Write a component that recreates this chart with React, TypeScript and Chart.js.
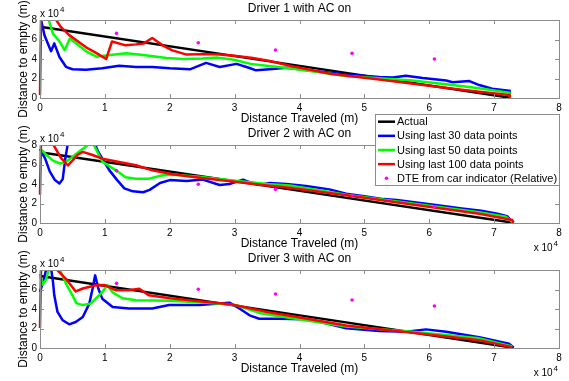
import React, { useEffect, useRef } from "react";
import { Chart, registerables } from "chart.js";

Chart.register(...registerables);

const W = 569;
const H = 381;
const FONT = '"Liberation Sans", Arial, Helvetica, sans-serif';
const FRAME_COLOR = "#8c8c8c";

// ---- text / ticks ----
const xTicks = [0, 1, 2, 3, 4, 5, 6, 7, 8];
const yTicks = [0, 2, 4, 6, 8];
const titles = ["Driver 1 with AC on", "Driver 2 with AC on", "Driver 3 with AC on"];
const xLabel = "Distance Traveled (m)";
const yLabel = "Distance to empty (m)";
const legendLabels = [
  "Actual",
  "Using last 30 data points",
  "Using last 50 data points",
  "Using last 100 data points",
  "DTE from car indicator (Relative)",
];
const seriesColors = ["#000000", "#0000ff", "#00ff00", "#ff0000", "#ff00ff"];

// ---- data (x and y in units of 10^4 m, as shown on the axes) ----
type P = [number, number][];

const driver1Actual: P = [[0, 7.3], [3.85, 3.45], [7.25, 0.02]];
const driver2Actual: P = [[0, 7.25], [3.85, 3.45], [7.3, 0.02]];
const driver3Actual: P = [[0, 7.38], [3.85, 3.5], [7.3, 0.02]];

const driver1Blue: P = [
  [0, 8.5], [0.07, 6.4], [0.17, 4.8], [0.22, 5.6], [0.3, 4.2], [0.4, 3.2], [0.5, 2.95],
  [0.71, 2.9], [0.96, 3.05], [1.22, 3.3], [1.48, 3.18], [1.73, 3.18], [2.0, 3.04],
  [2.31, 2.94], [2.56, 3.6], [2.77, 3.18], [3.03, 3.5], [3.23, 3.08], [3.33, 2.84],
  [3.54, 2.94], [3.8, 3.1], [4.2, 2.8], [4.72, 2.4], [5.23, 2.15], [5.44, 2.1],
  [5.64, 2.29], [5.9, 2.05], [6.26, 1.8], [6.36, 1.62], [6.62, 1.74], [6.77, 1.33],
  [6.97, 0.95], [7.23, 0.75], [7.24, 0.35],
];
const driver1Green: P = [
  [0.05, 10], [0.12, 8.3], [0.2, 6.6], [0.3, 5.8], [0.38, 4.9], [0.46, 6.1], [0.56, 5.6],
  [0.72, 4.75], [0.87, 4.24], [1.08, 4.4], [1.33, 4.6], [1.59, 4.4], [1.95, 4.1],
  [2.2, 4.0], [2.5, 4.05], [2.72, 4.15], [2.97, 3.95], [3.25, 3.5], [3.49, 3.3],
  [3.85, 3.05], [4.72, 2.25], [5.74, 1.8], [6.26, 1.4], [6.77, 1.0], [7.23, 0.55],
  [7.24, 0.2],
];
const driver1Red: P = [
  [0, 0.3], [0.02, 10], [0.25, 8.0], [0.32, 7.3], [0.45, 6.45], [0.71, 5.2], [0.87, 4.6],
  [1.02, 4.0], [1.11, 5.8], [1.32, 5.4], [1.48, 5.5], [1.6, 5.6], [1.73, 6.15],
  [1.89, 5.4], [2.04, 4.89], [2.26, 4.45], [2.51, 4.5], [2.77, 4.45], [3.03, 4.3],
  [3.28, 4.1], [3.54, 3.8], [3.85, 3.3], [4.5, 2.45], [5.23, 1.9], [6.0, 1.25],
  [6.5, 0.85], [7.23, 0.3], [7.24, 0.05],
];

const driver2Blue: P = [
  [0, 7.6], [0.08, 6.6], [0.15, 5.3], [0.23, 4.4], [0.3, 4.05], [0.35, 4.5], [0.39, 6.6],
  [0.43, 8.2], [0.5, 11], [0.75, 11], [0.84, 8.2], [0.89, 7.4], [0.96, 6.6], [1.07, 5.4],
  [1.19, 4.4], [1.3, 3.55], [1.43, 3.25], [1.59, 3.15], [1.69, 3.4], [1.85, 4.1],
  [2.0, 4.4], [2.26, 4.3], [2.51, 4.45], [2.77, 3.9], [2.92, 4.0], [3.13, 4.45],
  [3.23, 4.2], [3.38, 3.9], [3.54, 4.1], [3.8, 4.0], [4.1, 3.8], [4.46, 3.45],
  [4.72, 3.0], [5.0, 2.75], [5.3, 2.45], [5.5, 2.35], [5.8, 2.1], [6.1, 1.85],
  [6.5, 1.5], [6.8, 1.25], [7.05, 0.95], [7.2, 0.7], [7.28, 0.1],
];
const driver2Green: P = [
  [0, 7.65], [0.1, 6.97], [0.2, 6.4], [0.31, 6.1], [0.41, 6.3], [0.6, 7.3], [0.72, 7.9],
  [0.78, 8.4], [0.83, 8.0], [0.96, 6.3], [1.17, 5.4], [1.32, 4.7], [1.48, 4.55],
  [1.68, 4.55], [1.89, 4.9], [2.09, 4.95], [2.46, 4.75], [2.97, 4.35], [3.5, 4.0],
  [3.85, 3.85], [4.72, 2.9], [5.74, 2.0], [6.77, 1.1], [7.18, 0.65], [7.28, 0.1],
];
const driver2Red: P = [
  [0, 2.9], [0.02, 10], [0.2, 8.1], [0.32, 6.7], [0.43, 5.9], [0.5, 6.4], [0.58, 7.0],
  [0.66, 7.3], [0.8, 7.0], [0.96, 6.6], [1.22, 6.25], [1.48, 5.92], [1.73, 5.4],
  [2.04, 5.0], [2.46, 4.65], [2.97, 4.25], [3.5, 3.85], [3.85, 3.62], [4.72, 2.85],
  [5.74, 1.9], [6.77, 0.95], [7.28, 0.3], [7.3, 0.05],
];

const driver3Blue: P = [
  [0, 5.75], [0.05, 6.8], [0.1, 8.2], [0.13, 8.8], [0.17, 8.2], [0.2, 6.8], [0.22, 5.4],
  [0.27, 3.7], [0.35, 2.84], [0.45, 2.43], [0.55, 2.67], [0.66, 3.18], [0.76, 4.55],
  [0.81, 6.08], [0.85, 7.45], [0.9, 6.08], [0.96, 5.06], [1.12, 4.2], [1.37, 4.05],
  [1.73, 4.05], [1.99, 4.4], [2.46, 4.4], [2.92, 4.65], [3.08, 4.03], [3.23, 3.35],
  [3.38, 3.0], [3.69, 3.0], [4.05, 2.94], [4.2, 2.87], [4.72, 2.02], [5.23, 1.74],
  [5.64, 1.67], [5.95, 1.91], [6.26, 1.67], [6.77, 1.1], [7.23, 0.44], [7.3, 0.05],
];
const driver3Green: P = [
  [0, 7.6], [0.04, 6.5], [0.09, 7.0], [0.14, 8.1], [0.22, 8.6], [0.3, 8.1], [0.41, 6.5],
  [0.5, 5.4], [0.56, 4.6], [0.66, 4.4], [0.78, 4.55], [0.96, 5.74], [1.04, 6.45],
  [1.12, 5.7], [1.27, 5.1], [1.48, 4.9], [1.99, 4.85], [2.46, 4.7], [2.77, 4.55],
  [3.03, 4.38], [3.38, 3.6], [3.69, 3.25], [4.72, 2.2], [5.74, 1.67], [6.77, 0.99],
  [7.28, 0.15],
];
const driver3Red: P = [
  [0, 2.05], [0.02, 10], [0.25, 8.1], [0.4, 7.1], [0.55, 5.8], [0.66, 6.1], [0.86, 6.43],
  [1.0, 6.45], [1.17, 5.92], [1.37, 5.92], [1.53, 6.08], [1.68, 5.4], [2.0, 5.1],
  [2.46, 4.8], [2.97, 4.45], [3.5, 3.7], [3.85, 3.3], [4.72, 2.3], [5.74, 1.57],
  [6.77, 0.8], [7.28, 0.07],
];

const dteX = [1.18, 2.44, 3.63, 4.81, 6.08];
const driver1Dte = [6.63, 5.67, 4.92, 4.58, 4.0];
const driver2Dte = [5.36, 3.97, 3.45, 2.87, 1.67];
const driver3Dte = [6.63, 6.02, 5.54, 4.92, 4.31];

const actualSeries = [driver1Actual, driver2Actual, driver3Actual];
const blueSeries = [driver1Blue, driver2Blue, driver3Blue];
const greenSeries = [driver1Green, driver2Green, driver3Green];
const redSeries = [driver1Red, driver2Red, driver3Red];
const dteSeries = [driver1Dte, driver2Dte, driver3Dte];

// ---- layout of the three panels (plot-area top / bottom in page px) ----
const panelTops = [20, 145, 270];
const panelBottoms = [98, 223, 348];
const Y_AXIS_W = 40;
const X_AXIS_H = 20;
const RIGHT_PAD = 10;
const TICK = 4;

function drawExponent(ctx: CanvasRenderingContext2D, x: number, baseline: number, alignRight: boolean) {
  ctx.font = `10px ${FONT}`;
  const w1 = ctx.measureText("x 10").width;
  ctx.font = `8px ${FONT}`;
  const w2 = ctx.measureText("4").width;
  const start = alignRight ? x - w2 - 1 - w1 : x;
  ctx.textAlign = "left";
  ctx.textBaseline = "alphabetic";
  ctx.font = `10px ${FONT}`;
  ctx.fillText("x 10", start, baseline);
  ctx.font = `8px ${FONT}`;
  ctx.fillText("4", start + w1 + 1, baseline - 5);
}

function drawFrame(chart: any) {
  const { ctx, chartArea: a, scales } = chart;
  ctx.save();
  ctx.strokeStyle = FRAME_COLOR;
  ctx.lineWidth = 1;
  ctx.strokeRect(a.left + 0.5, a.top + 0.5, a.right - a.left, a.bottom - a.top);
  ctx.beginPath();
  for (const v of xTicks) {
    const px = Math.round(scales.x.getPixelForValue(v)) + 0.5;
    ctx.moveTo(px, a.bottom);
    ctx.lineTo(px, a.bottom - TICK);
    ctx.moveTo(px, a.top);
    ctx.lineTo(px, a.top + TICK);
  }
  for (const v of yTicks) {
    const py = Math.round(scales.y.getPixelForValue(v)) + 0.5;
    ctx.moveTo(a.left, py);
    ctx.lineTo(a.left + TICK, py);
    ctx.moveTo(a.right, py);
    ctx.lineTo(a.right - TICK, py);
  }
  ctx.stroke();
  ctx.restore();
}

function makeDecor(idx: number) {
  return {
    id: "decor" + idx,
    afterDraw(chart: any) {
      drawFrame(chart);
      const { ctx, chartArea: a } = chart;
      const cx = (a.left + a.right) / 2;
      ctx.save();
      ctx.fillStyle = "#000";
      ctx.font = `12px ${FONT}`;
      ctx.textAlign = "center";
      ctx.textBaseline = "alphabetic";
      ctx.fillText(titles[idx], cx, a.top - 8);
      ctx.fillText(xLabel, cx, a.bottom + 24);
      ctx.save();
      ctx.translate(27, (a.top + a.bottom) / 2);
      ctx.rotate(-Math.PI / 2);
      ctx.fillText(yLabel, 0, 0);
      ctx.restore();
      drawExponent(ctx, a.left, a.top - 3, false);
      if (idx > 0) drawExponent(ctx, a.right - 1, a.bottom + 28, true);

      if (idx === 1) {
        // legend box, anchored to the right edge of the middle panel
        const lw = 184;
        const lh = 72;
        const lx = a.right - lw;
        const ly = a.top - 31;
        ctx.fillStyle = "#ffffff";
        ctx.fillRect(lx, ly, lw + 1, lh);
        ctx.strokeStyle = FRAME_COLOR;
        ctx.lineWidth = 1;
        ctx.strokeRect(lx + 0.5, ly + 0.5, lw, lh - 1);
        ctx.font = `11px ${FONT}`;
        ctx.textAlign = "left";
        ctx.textBaseline = "middle";
        for (let k = 0; k < legendLabels.length; k++) {
          const ry = ly + 7.7 + k * 14.15;
          if (k < 4) {
            ctx.strokeStyle = seriesColors[k];
            ctx.lineWidth = 2.5;
            ctx.beginPath();
            ctx.moveTo(lx + 3, ry);
            ctx.lineTo(lx + 20, ry);
            ctx.stroke();
          } else {
            ctx.fillStyle = seriesColors[k];
            ctx.beginPath();
            ctx.arc(lx + 11.5, ry, 1.8, 0, Math.PI * 2);
            ctx.fill();
          }
          ctx.fillStyle = "#000";
          ctx.fillText(legendLabels[k], lx + 22, ry + 0.5);
        }
      }
      ctx.restore();
    },
  };
}

function buildConfig(idx: number): any {
  const lines = [actualSeries[idx], blueSeries[idx], greenSeries[idx], redSeries[idx]];
  const datasets: any[] = lines.map((pts, k) => ({
    label: legendLabels[k],
    data: pts.map(([x, y]) => ({ x, y })),
    showLine: true,
    borderColor: seriesColors[k],
    backgroundColor: seriesColors[k],
    borderWidth: 2.5,
    borderJoinStyle: "round",
    pointRadius: 0,
    pointHoverRadius: 0,
    tension: 0,
    order: 5 - k,
    clip: { left: 2, top: 0, right: 0, bottom: 2 },
  }));
  datasets.push({
    label: legendLabels[4],
    data: dteX.map((x, i) => ({ x, y: dteSeries[idx][i] })),
    showLine: false,
    pointRadius: 1.8,
    pointHoverRadius: 1.8,
    pointBorderWidth: 0,
    backgroundColor: seriesColors[4],
    borderColor: seriesColors[4],
    order: 0,
  });

  const tickFont = { family: FONT, size: 10 };
  return {
    type: "scatter",
    data: { datasets },
    options: {
      responsive: false,
      maintainAspectRatio: false,
      animation: false,
      devicePixelRatio: 1,
      events: [],
      layout: {
        padding: {
          left: 0,
          right: RIGHT_PAD,
          top: panelTops[idx],
          bottom: H - panelBottoms[idx] - X_AXIS_H,
        },
      },
      plugins: {
        legend: { display: false },
        title: { display: false },
        tooltip: { enabled: false },
      },
      scales: {
        x: {
          type: "linear",
          min: 0,
          max: 8,
          grid: { display: false, drawTicks: false, tickLength: 0 },
          border: { display: false },
          afterBuildTicks: (s: any) => {
            s.ticks = xTicks.map((v) => ({ value: v }));
          },
          afterFit: (s: any) => {
            s.height = X_AXIS_H;
          },
          ticks: {
            color: "#000",
            font: tickFont,
            padding: 4,
            autoSkip: false,
            maxRotation: 0,
            minRotation: 0,
            callback: (v: any) => String(v),
          },
        },
        y: {
          type: "linear",
          min: 0,
          max: 8,
          grid: { display: false, drawTicks: false, tickLength: 0 },
          border: { display: false },
          afterBuildTicks: (s: any) => {
            s.ticks = yTicks.map((v) => ({ value: v }));
          },
          afterFit: (s: any) => {
            s.width = Y_AXIS_W;
          },
          ticks: {
            color: "#000",
            font: tickFont,
            padding: 3,
            autoSkip: false,
            callback: (v: any) => String(v),
          },
        },
      },
    },
    plugins: [makeDecor(idx)],
  };
}

export default function App() {
  const r0 = useRef<HTMLCanvasElement>(null);
  const r1 = useRef<HTMLCanvasElement>(null);
  const r2 = useRef<HTMLCanvasElement>(null);
  const refs = [r0, r1, r2];

  useEffect(() => {
    const charts = refs.map((r, i) => (r.current ? new Chart(r.current, buildConfig(i)) : null));
    return () => {
      charts.forEach((c) => c && c.destroy());
    };
  }, []);

  return (
    <div style={{ position: "fixed", left: 0, top: 0, width: W, height: H, background: "#fff" }}>
      {refs.map((r, i) => (
        <canvas
          key={i}
          ref={r}
          width={W}
          height={H}
          style={{ position: "absolute", left: 0, top: 0, width: W, height: H }}
        />
      ))}
    </div>
  );
}
